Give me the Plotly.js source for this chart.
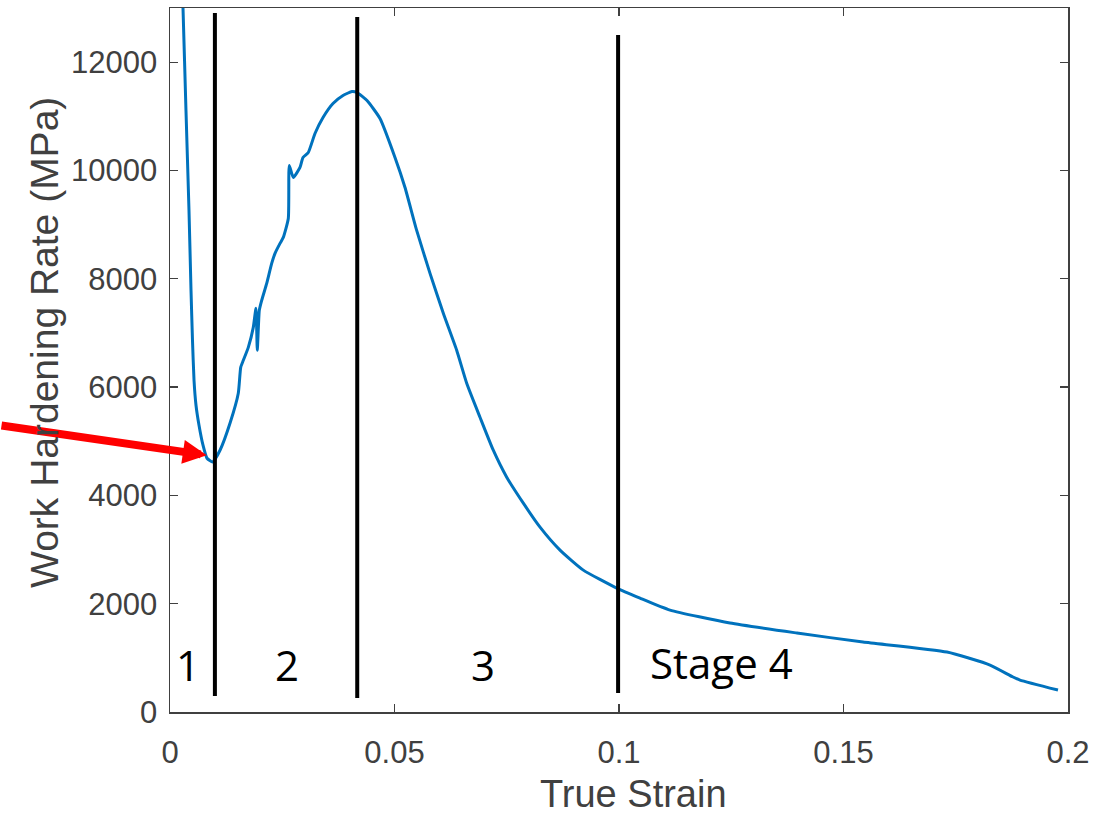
<!DOCTYPE html>
<html>
<head>
<meta charset="utf-8">
<script src="https://cdn.plot.ly/plotly-3.0.1.min.js"></script>
<style>
  html, body { margin: 0; padding: 0; background: #fff; }
  #chart { width: 1096px; height: 816px; }
</style>
</head>
<body>
<div id="chart"></div>
<script>
// Work hardening rate vs. true strain
const strain = [
  0.0027, 0.00290, 0.00356, 0.00423, 0.00468, 0.00501, 0.00535, 0.00579, 0.00646, 0.00735, 0.00824, 0.00951,
  0.01114, 0.01336, 0.01521, 0.01575, 0.01633, 0.01744, 0.01855, 0.01915, 0.01944, 0.01989, 0.02042, 0.02154,
  0.02265, 0.02339, 0.02450, 0.02523, 0.02635, 0.02657, 0.02746, 0.02895, 0.02962, 0.03080, 0.03229, 0.03408,
  0.03630, 0.03853, 0.04053, 0.04165,
  0.04388, 0.04677, 0.05011, 0.05234, 0.05494, 0.05791, 0.06087, 0.06385, 0.06608, 0.06904, 0.07200, 0.07499,
  0.07869, 0.08241, 0.08686, 0.09205, 0.09949,
  0.10468, 0.11136, 0.12472, 0.13964, 0.15434, 0.17305, 0.18263, 0.18775, 0.18931, 0.19777
];
const hardeningRate = [
  13500, 12989, 11107, 9262, 7786, 6863, 6125, 5664, 5295, 4926, 4686, 4618,
  4834, 5332, 5886, 6365, 6494, 6734, 7103, 7454, 6679, 7417, 7601, 7915,
  8284, 8469, 8653, 8764, 9114, 10092, 9871, 10055, 10240, 10332, 10683, 10978,
  11236, 11384, 11457, 11439,
  11291, 10959, 10240, 9686, 8893, 8100, 7362, 6679, 6070, 5443, 4834, 4336,
  3856, 3413, 2989, 2620, 2288,
  2103, 1882, 1642, 1458, 1292, 1107, 867, 646, 590, 406
];

// Stage boundaries (strain) with the extent of each marker line
const boundaryStrain = [0.0100, 0.0417, 0.0998];
const boundaryLow = [295, 258, 350];
const boundaryHigh = [12908, 12835, 12502];

// Stage labels
const stageText = ['1', '2', '3', 'Stage 4'];
const stageX = [0.0040, 0.0261, 0.0697, 0.1229];
const stageY = [870, 870, 870, 920];

// Minimum of the curve pointed to by the arrow
const minPoint = { x: 0.0082, y: 4740 };

const xTickVals = [0, 0.05, 0.1, 0.15, 0.2];
const xTickText = ['0', '0.05', '0.1', '0.15', '0.2'];
const yTickVals = [0, 2000, 4000, 6000, 8000, 10000, 12000];
const yTickText = ['0', '2000', '4000', '6000', '8000', '10000', '12000'];

const traces = [{
  x: strain, y: hardeningRate, type: 'scatter', mode: 'lines',
  line: { color: '#0072BD', width: 3, shape: 'spline', smoothing: 0.5 },
  hoverinfo: 'skip', showlegend: false
}];
boundaryStrain.forEach((s, i) => {
  traces.push({
    x: [s, s], y: [boundaryLow[i], boundaryHigh[i]], type: 'scatter', mode: 'lines',
    line: { color: '#000', width: 4 }, hoverinfo: 'skip', showlegend: false
  });
});

const titleFont = { family: 'Liberation Sans, Arial, sans-serif', size: 38, color: '#404040' };

const annotations = stageText.map((t, i) => ({
  x: stageX[i], y: stageY[i], xref: 'x', yref: 'y', text: t, showarrow: false,
  font: { family: 'Open Sans', size: 42, color: '#000' }
}));
annotations.push({
  x: minPoint.x, y: minPoint.y, xref: 'x', yref: 'y', text: '',
  showarrow: true, arrowhead: 2, arrowsize: 0.6, arrowwidth: 8, arrowcolor: '#ff0000',
  ax: -210, ay: -30, standoff: 0
});
// Axis titles
annotations.push({
  x: 0.5156, y: -0.1165, xref: 'paper', yref: 'paper', xanchor: 'center', yanchor: 'middle',
  text: 'True Strain', showarrow: false, font: titleFont
});
annotations.push({
  x: -0.1392, y: 0.5256, xref: 'paper', yref: 'paper', xanchor: 'center', yanchor: 'middle',
  text: 'Work Hardening Rate (MPa)', textangle: -90, showarrow: false,
  font: { family: 'Liberation Sans, Arial, sans-serif', size: 39, color: '#404040' }
});

const axisFont = { family: 'Liberation Sans, Arial, sans-serif', size: 31, color: '#404040' };

const layout = {
  width: 1096, height: 816, autosize: false,
  margin: { l: 170, r: 28, t: 8, b: 104 },
  paper_bgcolor: '#fff', plot_bgcolor: '#fff',
  showlegend: false,
  xaxis: {
    range: [0, 0.2], tickvals: xTickVals, ticktext: xTickText,
    ticks: 'inside', ticklen: 8, tickwidth: 1.3, tickcolor: '#404040',
    showline: true, linecolor: '#404040', linewidth: 1.5, mirror: 'ticks',
    showgrid: false, zeroline: false, tickfont: axisFont, ticklabelstandoff: 12
  },
  yaxis: {
    range: [0, 13000], tickvals: yTickVals, ticktext: yTickText,
    ticks: 'inside', ticklen: 8, tickwidth: 1.3, tickcolor: '#404040',
    showline: true, linecolor: '#404040', linewidth: 1.5, mirror: 'ticks',
    showgrid: false, zeroline: false, tickfont: axisFont, ticklabelstandoff: 5
  },
  annotations: annotations
};

Plotly.newPlot('chart', traces, layout, { staticPlot: true, displayModeBar: false });
</script>
</body>
</html>
